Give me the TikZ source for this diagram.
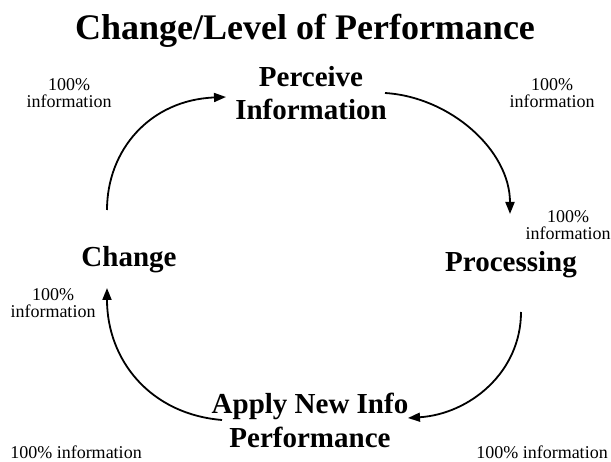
\documentclass[tikz,border=0pt]{standalone}
\usepackage{fontspec}
\setmainfont{Liberation Serif}
\usetikzlibrary{arrows.meta}
\begin{document}
\begin{tikzpicture}[x=1pt,y=-1pt,
  title/.style={font=\bfseries\fontsize{36}{40}\selectfont,inner sep=0pt,anchor=base},
  stage/.style={font=\bfseries\fontsize{29}{33}\selectfont,inner sep=0pt,align=center,anchor=base},
  info/.style={font=\fontsize{18}{17}\selectfont,inner sep=0pt,align=center,anchor=base},
  flow/.style={line width=1.8pt,-{Triangle[length=12pt,width=9pt]}}]
\useasboundingbox (0,0) rectangle (611,462);
\fill[white] (0,0) rectangle (611,462);
\node[title] (t) at (305,40) {Change/Level of Performance};
\node[stage] (perc) at (311,120) {Perceive\\Information};
\node[stage] (chg) at (129,267) {Change};
\node[stage] (proc) at (511,272) {Processing};
\node[stage] (app) at (310,447) {Apply New Info\\Performance};
\node[info] (i1) at (69,108) {100\%\\information};
\node[info] (i2) at (552,108) {100\%\\information};
\node[info] (i3) at (568,240) {100\%\\information};
\node[info] (i4) at (53,318) {100\%\\information};
\node[info] (i5) at (76,458) {100\% information};
\node[info] (i6) at (542,458) {100\% information};
\coordinate (a1s) at (107,210); \coordinate (a1e) at (226,97);
\coordinate (a2s) at (385,93);  \coordinate (a2e) at (510,214);
\coordinate (a3s) at (521,312); \coordinate (a3e) at (408,418);
\coordinate (a4s) at (222,420); \coordinate (a4e) at (107,288);
\draw[flow] (a1s) .. controls (107,150) and (150,100) .. (a1e);
\draw[flow] (a2s) .. controls (450,97) and (510,150) .. (a2e);
\draw[flow] (a3s) .. controls (521,372) and (470,414) .. (a3e);
\draw[flow] (a4s) .. controls (150,414) and (107,360) .. (a4e);
\end{tikzpicture}
\end{document}
